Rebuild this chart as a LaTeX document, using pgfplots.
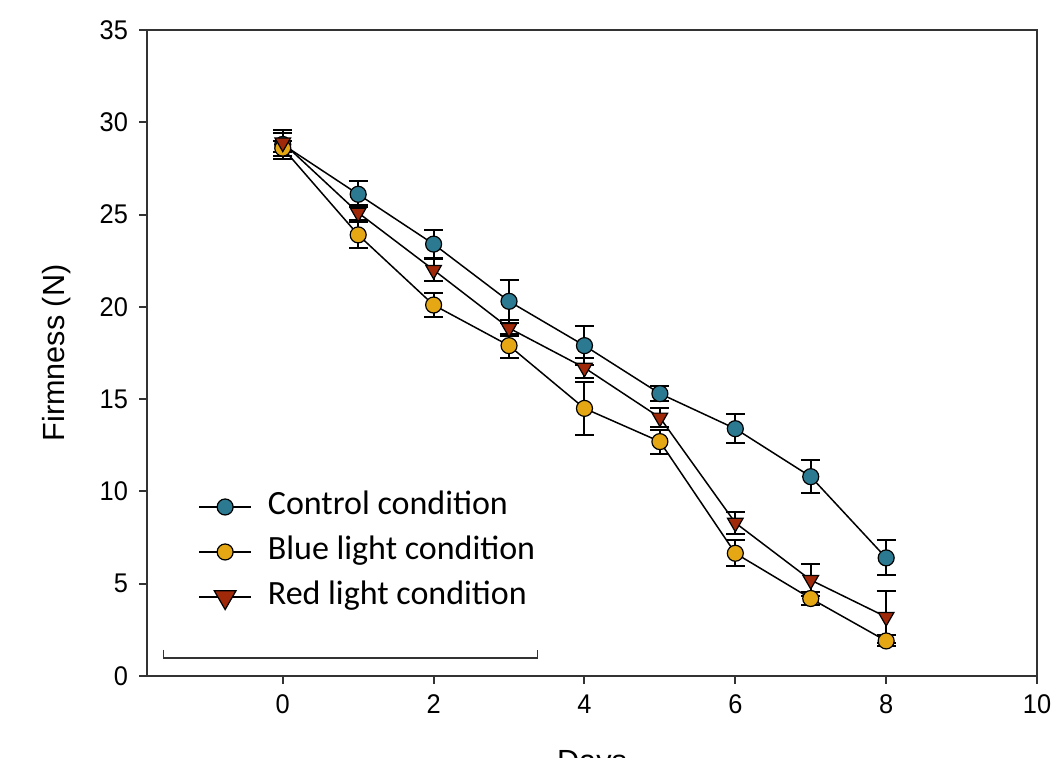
\documentclass[border=0pt]{standalone}
\usepackage{fontspec}
\setmainfont{Liberation Sans}
\newfontfamily\tickfont[FakeStretch=0.94]{Liberation Sans}
\newfontfamily\legfont{Carlito}
\usepackage{pgfplots}
\pgfplotsset{compat=1.18}
\definecolor{ctrl}{HTML}{2B7A91}
\definecolor{bluel}{HTML}{E5A714}
\definecolor{redl}{HTML}{A0290A}
\definecolor{axgray}{HTML}{333333}

% day, mean, error
\pgfplotstableread{
x y e
0 28.8 0.8
1 26.1 0.7
2 23.4 0.75
3 20.3 1.15
4 17.9 1.05
5 15.3 0.4
6 13.4 0.8
7 10.8 0.9
8 6.4 0.95
}\control
\pgfplotstableread{
x y e
0 28.6 0.4
1 23.9 0.7
2 20.1 0.65
3 17.9 0.65
4 14.5 1.45
5 12.7 0.65
6 6.65 0.7
7 4.2 0.35
8 1.9 0.3
}\bluelight
\pgfplotstableread{
x y e
0 28.9 0.5
1 25.1 0.4
2 22.0 0.6
3 18.85 0.45
4 16.7 0.55
5 14.0 0.5
6 8.3 0.6
7 5.2 0.85
8 3.2 1.4
}\redlight

\begin{document}
\begin{tikzpicture}
\path[use as bounding box] (-73.5pt,-40.5pt) rectangle (452.5pt,338pt);
\clip (-73.5pt,-40.5pt) rectangle (452.5pt,338pt);
\begin{axis}[
    at={(0pt,0pt)}, anchor=south west,
    scale only axis,
    width=445pt, height=323pt,
    xmin=-1.8, xmax=10,
    ymin=0, ymax=35,
    xtick={0,2,...,10},
    ytick={0,5,...,35},
    tick align=outside,
    xtick pos=left, ytick pos=left,
    major tick length=4pt,
    axis line style={axgray, line width=1pt},
    every tick/.style={axgray, line width=1pt},
    /pgf/number format/assume math mode=true,
    tick label style={font=\tickfont\fontsize{13.5}{15}\selectfont},
    xticklabel style={yshift=-2pt},
    yticklabel style={xshift=-2pt},
    ylabel={Firmness (N)},
    xlabel={Days},
    label style={font=\fontsize{15.3}{17}\selectfont},
    ylabel style={at={(axis description cs:-0.1011,0.5)}, anchor=center, rotate=0},
    xlabel style={at={(axis description cs:0.5,-0.1146)}, anchor=north, inner sep=0pt},
    legend cell align=left,
    legend style={at={(rel axis cs:0.0573,0.192)}, anchor=west, draw=none, fill=none,
        inner sep=0pt, column sep=8pt, row sep=6.5pt,
        font=\legfont\fontsize{17}{20}\selectfont,
        nodes={inner sep=0pt, text height=12pt, text depth=4pt}},
    legend image code/.code={\draw[mark repeat=2,mark phase=2,#1] plot coordinates {(0pt,0pt)(13pt,0pt)(26pt,0pt)};},
    every axis plot/.append style={black, line width=0.75pt},
    error bars/y dir=both,
    error bars/y explicit,
    error bars/error bar style={black, line width=1pt},
    error bars/error mark options={rotate=90, black, line width=1pt, mark size=4.75pt},
]
\addplot[mark=*, mark size=4pt, mark options={fill=ctrl, draw=black, line width=0.6pt}]
    table[x=x, y=y, y error=e] {\control};
\addplot[mark=*, mark size=4pt, mark options={fill=bluel, draw=black, line width=0.6pt}]
    table[x=x, y=y, y error=e] {\bluelight};
\addplot[mark=triangle*, mark size=4.5pt, mark options={fill=redl, draw=black, line width=0.6pt, rotate=180},
    legend image post style={mark size=6.3pt}]
    table[x=x, y=y, y error=e] {\redlight};
\legend{Control condition, Blue light condition, Red light condition}
\draw[axgray, line width=0.75pt] (axis cs:-1.58,1.42) |- (axis cs:3.38,0.98) -- (axis cs:3.38,1.42);
\end{axis}
\end{tikzpicture}
\end{document}
